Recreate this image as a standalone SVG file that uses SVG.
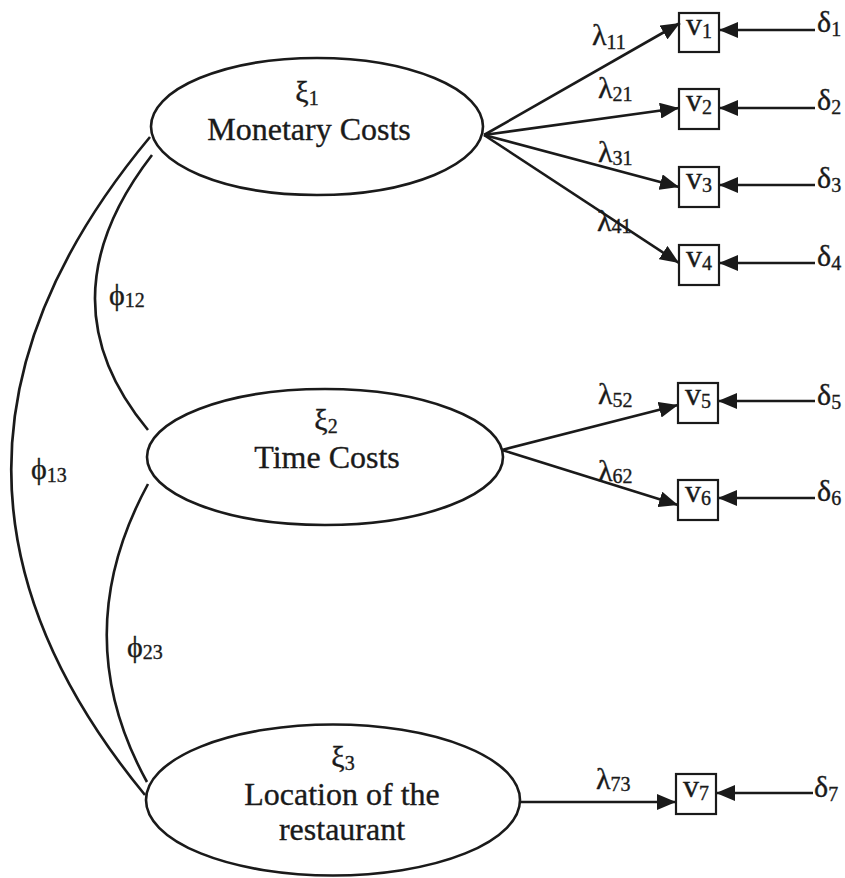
<svg xmlns="http://www.w3.org/2000/svg" width="845" height="878" viewBox="0 0 845 878">
  <defs>
    <marker id="head" viewBox="0 0 19 16" refX="19" refY="8" markerWidth="19" markerHeight="16" markerUnits="userSpaceOnUse" orient="auto">
      <path d="M0,0 L19,8 L0,16 z" fill="#1a1a1a"/>
    </marker>
  </defs>
  <style>
    text { font-family: "Liberation Serif", "Times New Roman", serif; fill: #1a1a1a; stroke: #1a1a1a; stroke-width: 0.35; }
    .big { font-size: 32px; }
    .greek { font-size: 30px; }
    .vv { font-size: 32px; }
    .sub { font-size: 20px; }
    .sym { font-size: 30px; }
    .ssub { font-size: 20px; }
    .latent { fill: none; stroke: #1a1a1a; stroke-width: 2.6; }
    .obs { fill: none; stroke: #1a1a1a; stroke-width: 2.2; }
    .edge { fill: none; stroke: #1a1a1a; stroke-width: 2.6; }
    .arrow { marker-end: url(#head); }
  </style>
  <rect width="845" height="878" fill="#ffffff"/>

  <!-- connectors -->
  <g id="connectors">
    <!-- covariances between factors -->
    <path class="edge" d="M150,137 Q -125,467 145,795"/>
    <path class="edge" d="M152,155 Q 40,300 148,430"/>
    <path class="edge" d="M148,484 Q 66,635 147,782"/>
    <!-- loadings -->
    <line class="edge arrow" x1="484" y1="135" x2="680" y2="23"/>
    <line class="edge arrow" x1="484" y1="135" x2="679" y2="108"/>
    <line class="edge arrow" x1="484" y1="135" x2="679" y2="187"/>
    <line class="edge arrow" x1="484" y1="135" x2="679" y2="263"/>
    <line class="edge arrow" x1="502" y1="450" x2="678" y2="405"/>
    <line class="edge arrow" x1="502" y1="450" x2="678" y2="505"/>
    <line class="edge arrow" x1="520" y1="802" x2="676" y2="802"/>
    <!-- error terms -->
    <line class="edge arrow" x1="815" y1="30" x2="719" y2="30"/>
    <line class="edge arrow" x1="815" y1="108" x2="719" y2="108"/>
    <line class="edge arrow" x1="815" y1="185" x2="719" y2="185"/>
    <line class="edge arrow" x1="815" y1="263" x2="719" y2="263"/>
    <line class="edge arrow" x1="815" y1="401" x2="718" y2="401"/>
    <line class="edge arrow" x1="815" y1="498" x2="718" y2="498"/>
    <line class="edge arrow" x1="813" y1="793" x2="716" y2="793"/>
  </g>

  <!-- connector labels -->
  <g id="labels">
    <text class="sym" x="109" y="305">ϕ<tspan class="ssub" dy="2">12</tspan></text>
    <text class="sym" x="31" y="479">ϕ<tspan class="ssub" dy="3">13</tspan></text>
    <text class="sym" x="127" y="657">ϕ<tspan class="ssub" dy="2">23</tspan></text>
    <text class="sym" x="592" y="45">λ<tspan class="ssub" dy="4">11</tspan></text>
    <text class="sym" x="598" y="98">λ<tspan class="ssub" dy="3">21</tspan></text>
    <text class="sym" x="598" y="162">λ<tspan class="ssub" dy="3">31</tspan></text>
    <text class="sym" x="597" y="231">λ<tspan class="ssub" dy="2">41</tspan></text>
    <text class="sym" x="598" y="404">λ<tspan class="ssub" dy="3">52</tspan></text>
    <text class="sym" x="598" y="481">λ<tspan class="ssub" dy="2">62</tspan></text>
    <text class="sym" x="596" y="789">λ<tspan class="ssub" dy="2">73</tspan></text>
    <text class="sym" x="817" y="32">δ<tspan class="ssub" dy="4">1</tspan></text>
    <text class="sym" x="817" y="110">δ<tspan class="ssub" dy="4">2</tspan></text>
    <text class="sym" x="817" y="188">δ<tspan class="ssub" dy="4">3</tspan></text>
    <text class="sym" x="817" y="266">δ<tspan class="ssub" dy="4">4</tspan></text>
    <text class="sym" x="817" y="405">δ<tspan class="ssub" dy="4">5</tspan></text>
    <text class="sym" x="817" y="501">δ<tspan class="ssub" dy="4">6</tspan></text>
    <text class="sym" x="814" y="797">δ<tspan class="ssub" dy="4">7</tspan></text>
  </g>

  <!-- latent factors -->
  <g id="xi1">
    <ellipse class="latent" cx="317" cy="126.5" rx="166" ry="68.5"/>
    <text class="greek" x="307" y="102" text-anchor="middle">ξ<tspan class="sub" dy="3">1</tspan></text>
    <text class="big" x="309" y="140" text-anchor="middle">Monetary Costs</text>
  </g>
  <g id="xi2">
    <ellipse class="latent" cx="325" cy="457" rx="178" ry="68"/>
    <text class="greek" x="326" y="430" text-anchor="middle">ξ<tspan class="sub" dy="3">2</tspan></text>
    <text class="big" x="327" y="468" text-anchor="middle">Time Costs</text>
  </g>
  <g id="xi3">
    <ellipse class="latent" cx="333" cy="800" rx="187" ry="75.5"/>
    <text class="greek" x="343" y="767" text-anchor="middle">ξ<tspan class="sub" dy="3">3</tspan></text>
    <text class="big" x="342" y="805" text-anchor="middle">Location of the</text>
    <text class="big" x="342" y="840" text-anchor="middle">restaurant</text>
  </g>

  <!-- observed indicators -->
  <g id="v1"><rect class="obs" x="679" y="13" width="40" height="39"/><text class="vv" x="699" y="35" text-anchor="middle">v<tspan class="ssub" dy="3">1</tspan></text></g>
  <g id="v2"><rect class="obs" x="679" y="89" width="40" height="40"/><text class="vv" x="699" y="111" text-anchor="middle">v<tspan class="ssub" dy="3">2</tspan></text></g>
  <g id="v3"><rect class="obs" x="679" y="167" width="40" height="40"/><text class="vv" x="699" y="189" text-anchor="middle">v<tspan class="ssub" dy="3">3</tspan></text></g>
  <g id="v4"><rect class="obs" x="679" y="245" width="40" height="40"/><text class="vv" x="699" y="267" text-anchor="middle">v<tspan class="ssub" dy="3">4</tspan></text></g>
  <g id="v5"><rect class="obs" x="678" y="383" width="40" height="40"/><text class="vv" x="698" y="405" text-anchor="middle">v<tspan class="ssub" dy="3">5</tspan></text></g>
  <g id="v6"><rect class="obs" x="678" y="480" width="40" height="40"/><text class="vv" x="698" y="502" text-anchor="middle">v<tspan class="ssub" dy="3">6</tspan></text></g>
  <g id="v7"><rect class="obs" x="676" y="774" width="40" height="40"/><text class="vv" x="696" y="797" text-anchor="middle">v<tspan class="ssub" dy="3">7</tspan></text></g>
</svg>
